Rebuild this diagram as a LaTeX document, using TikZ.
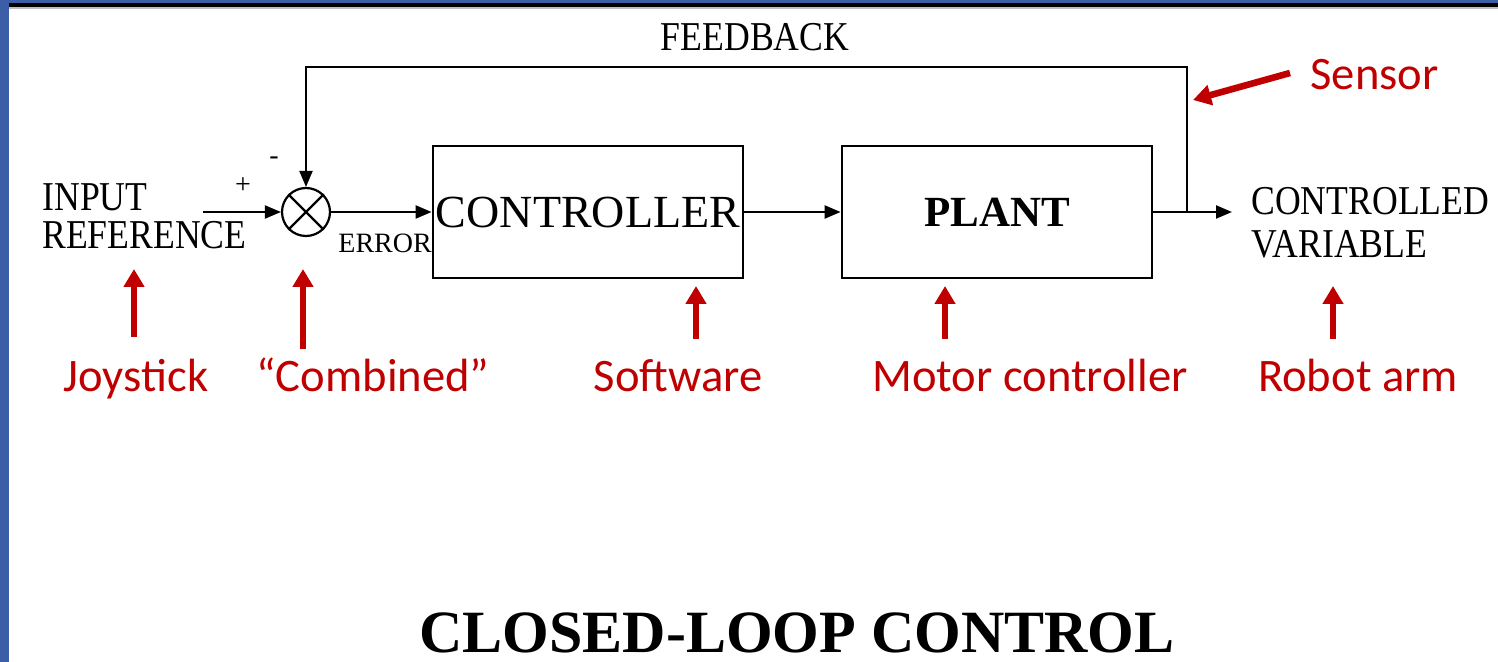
\documentclass[tikz,border=0pt]{standalone}
\usepackage{fontspec}
\setmainfont{Liberation Serif}
\newfontfamily\diagfont[FakeStretch=0.87]{Liberation Serif}
\newfontfamily\notefont{Carlito}
\usetikzlibrary{arrows.meta}
\definecolor{slideblue}{HTML}{3B5EA6}
\definecolor{notered}{HTML}{C00000}
\tikzset{
  wire/.style={line width=1.1pt, draw=black},
  flow/.style={wire, -{Triangle[length=8pt,width=6.5pt]}},
  block/.style={draw, line width=1.4pt, minimum height=66pt, inner sep=0pt},
  sumnode/.style={draw, circle, line width=1.1pt, minimum size=24pt, inner sep=0pt},
  sig/.style={font=\diagfont\fontsize{20.5}{20.5}\selectfont, inner sep=0pt},
  tag/.style={font=\fontsize{14}{14}\selectfont, inner sep=0pt},
  note/.style={font=\notefont\fontsize{23.3}{24}\selectfont, text=notered, inner sep=0pt, anchor=base},
  pointer/.style={draw=notered, line width=3.3pt, -{Triangle[length=9pt,width=10pt]}},
}
\begin{document}
\begin{tikzpicture}[x=0.5pt,y=-0.5pt]
\useasboundingbox (0,0) rectangle (1498,662);
% slide frame
\fill[white] (0,0) rectangle (1498,662);
\fill[slideblue] (0,0) rectangle (9,662);
\fill[slideblue] (0,0) rectangle (1498,3);
\fill[black] (9,3) rectangle (1498,7.5);
\fill[black!25] (9,7.5) rectangle (1498,9.5);

% blocks
\node[sumnode] (sum) at (306,212) {};
\draw[wire] (sum.north west) -- (sum.south east) (sum.north east) -- (sum.south west);
\node[block, minimum width=155pt, font=\fontsize{23}{23}\selectfont] (ctrl) at (588,212) {CONTROLLER};
\node[block, minimum width=155pt, font=\bfseries\fontsize{21.5}{21.5}\selectfont] (plant) at (997,212) {PLANT};

% signal labels
\node[sig, anchor=base west] (inp1) at (42,211) {INPUT};
\node[sig, anchor=base west] (inp2) at (42,249) {REFERENCE};
\node[sig, anchor=base west] (out1) at (1251,215) {CONTROLLED};
\node[sig, anchor=base west] (out2) at (1251,258) {VARIABLE};
\node[sig, anchor=base] (fbl) at (755,51) {FEEDBACK};
\node[tag, anchor=base west] (err) at (338,253) {ERROR};
\node[tag, anchor=center] (plus) at (243,186) {+};
\node[tag, anchor=center] (minus) at (274,161) {-};

% signal path
\coordinate (src) at (203,212);
\coordinate (tap) at (1187,212);
\coordinate (dst) at (1232,212);
\coordinate (fbtop) at (1187,67);
\draw[flow] (src) -- (sum.west);
\draw[flow] (sum.east) -- (ctrl.west);
\draw[flow] (ctrl.east) -- (plant.west);
\draw[wire] (plant.east) -- (tap);
\draw[flow] (tap) -- (dst);
\draw[flow] (tap) -- (fbtop) -| (sum.north);

% annotations
\node[note] (joy) at (136,392) {Joystick};
\node[note] (comb) at (373,392) {“Combined”};
\node[note] (soft) at (678,392) {Software};
\node[note] (motor) at (1030,392) {Motor controller};
\node[note] (robot) at (1358,392) {Robot arm};
\node[note, anchor=base west] (sens) at (1310,90) {Sensor};

\coordinate (joyA) at (134,337);   \coordinate (joyB) at (134,269);
\coordinate (combA) at (303,349);  \coordinate (combB) at (303,269);
\coordinate (softA) at (696,339);  \coordinate (softB) at (696,286);
\coordinate (motA) at (945,339);   \coordinate (motB) at (945,286);
\coordinate (robA) at (1333,339);  \coordinate (robB) at (1333,286);
\coordinate (senA) at (1290,73);   \coordinate (senB) at (1193,100);
\draw[pointer] (joyA) -- (joyB);
\draw[pointer] (combA) -- (combB);
\draw[pointer] (softA) -- (softB);
\draw[pointer] (motA) -- (motB);
\draw[pointer] (robA) -- (robB);
\draw[pointer] (senA) -- (senB);

% caption
\node[font=\bfseries\fontsize{30}{30}\selectfont, anchor=base, inner sep=0pt] (title) at (797,652) {CLOSED-LOOP CONTROL};
\end{tikzpicture}
\end{document}
